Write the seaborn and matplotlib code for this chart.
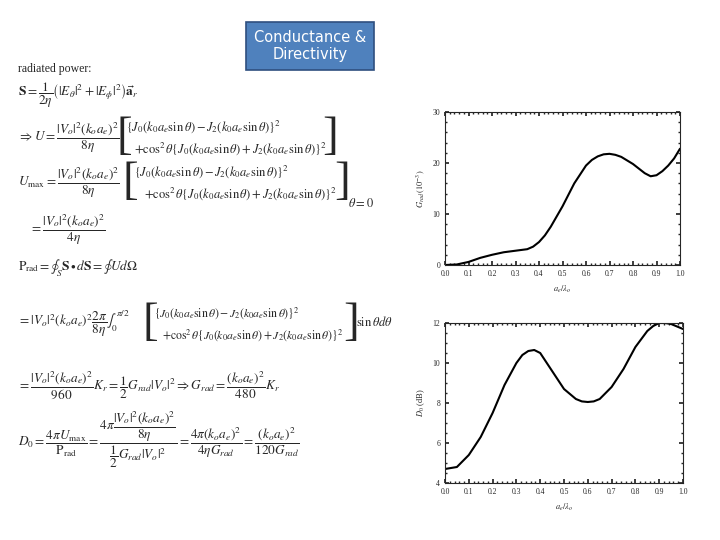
import matplotlib
matplotlib.use("Agg")
import matplotlib.pyplot as plt
import numpy as np
import pandas as pd
import seaborn as sns

# values
ratio = [0.0, 0.05, 0.1, 0.15, 0.2, 0.25, 0.3, 0.35, 0.375, 0.4, 0.425, 0.45, 0.5, 0.55,
         0.6, 0.625, 0.65, 0.675, 0.7, 0.725, 0.75, 0.8, 0.85, 0.875, 0.9, 0.925, 0.95, 0.975, 1.0]
g_rad = [0.0, 0.1, 0.6, 1.4, 2.0, 2.5, 2.8, 3.1, 3.6, 4.5, 5.8, 7.5, 11.5, 16.0,
         19.5, 20.6, 21.3, 21.7, 21.8, 21.6, 21.2, 19.8, 18.0, 17.4, 17.6, 18.4, 19.5, 20.9, 22.8]
ratio_d = [0.0, 0.05, 0.1, 0.15, 0.2, 0.25, 0.3, 0.325, 0.35, 0.375, 0.4, 0.45, 0.5,
           0.55, 0.575, 0.6, 0.625, 0.65, 0.7, 0.75, 0.8, 0.85, 0.875, 0.9, 0.925, 0.95, 1.0]
d0_db = [4.7, 4.8, 5.4, 6.3, 7.5, 8.9, 10.0, 10.4, 10.6, 10.65, 10.5, 9.6, 8.7,
         8.2, 8.08, 8.05, 8.08, 8.2, 8.8, 9.7, 10.8, 11.6, 11.85, 12.0, 12.0, 11.95, 11.7]

sns.set_theme(style="ticks")
plt.rcParams["mathtext.fontset"] = "stix"
plt.rcParams["font.family"] = ["Liberation Serif"]

fig = plt.figure(figsize=(7.2, 5.4), dpi=100)
W, H = 720, 540


def box(x0, y0, x1, y1):
    return [x0 / W, 1 - y1 / H, (x1 - x0) / W, (y1 - y0) / H]


def style(ax, xlab, ylab):
    ax.set_xlim(0, 1)
    ax.set_xticks(np.arange(0, 1.01, 0.1))
    ax.set_xticklabels([f"{v:.1f}" for v in np.arange(0, 1.01, 0.1)])
    ax.minorticks_on()
    ax.tick_params(which="both", direction="in", top=True, right=True, labelsize=5.5, length=3)
    ax.tick_params(which="minor", length=1.5)
    ax.set_xlabel(xlab, fontsize=6)
    ax.set_ylabel(ylab, fontsize=6)
    for s in ax.spines.values():
        s.set_linewidth(0.8)


ax1 = fig.add_axes(box(445, 112, 680, 265))
sns.lineplot(data=pd.DataFrame({"x": ratio, "y": g_rad}), x="x", y="y", ax=ax1,
             color="black", lw=1.5)
ax1.set_ylim(0, 30)
ax1.set_yticks([0, 10, 20, 30])
style(ax1, r"$a_e/\lambda_o$", r"$G_{rad}\,(10^{-3})$")

ax2 = fig.add_axes(box(445, 323, 683, 483))
sns.lineplot(data=pd.DataFrame({"x": ratio_d, "y": d0_db}), x="x", y="y", ax=ax2,
             color="black", lw=1.5)
ax2.set_ylim(4, 12)
ax2.set_yticks([4, 6, 8, 10, 12])
style(ax2, r"$a_e/\lambda_o$", r"$D_0$ (dB)")

# title box
fig.text(310 / W, 1 - 46 / H, "Conductance &\nDirectivity", ha="center", va="center",
         fontsize=10.5, color="white", family="DejaVu Sans",
         bbox=dict(boxstyle="square,pad=0.55", fc="#4f81bd", ec="#2f4f7f", lw=1.2))

J = r"\{J_0(k_0a_e\sin\theta)-J_2(k_0a_e\sin\theta)\}^2"
C = r"+\cos^2\theta\{J_0(k_0a_e\sin\theta)+J_2(k_0a_e\sin\theta)\}^2"
lines = [
    (18, 69, "radiated power:", 8.5),
    (18, 95, r"$\mathbf{S}=\dfrac{1}{2\eta}\left(|E_\theta|^2+|E_\phi|^2\right)\vec{\mathbf{a}}_r$", 9.5),
    (18, 138, r"$\Rightarrow U=\dfrac{|V_o|^2(k_oa_e)^2}{8\eta}$", 9.5),
    (126, 127, "$" + J + "$", 9),
    (134, 149, "$" + C + "$", 9),
    (18, 183, r"$U_{\max}=\dfrac{|V_o|^2(k_oa_e)^2}{8\eta}$", 9.5),
    (134, 172, "$" + J + "$", 9),
    (144, 194, "$" + C + "$", 9),
    (348, 203, r"$\theta=0$", 9),
    (30, 230, r"$=\dfrac{|V_o|^2(k_oa_e)^2}{4\eta}$", 9.5),
    (18, 268, r"$\mathrm{P_{rad}}=\oint_S \mathbf{S}\bullet d\mathbf{S}=\oint U d\Omega$", 9.5),
    (18, 324, r"$=|V_o|^2(k_oa_e)^2\dfrac{2\pi}{8\eta}\int_0^{\pi/2}$", 9.5),
    (154, 313, "$" + J + "$", 8.5),
    (162, 335, "$" + C + "$", 8.5),
    (356, 322, r"$\sin\theta d\theta$", 9),
    (18, 385, r"$=\dfrac{|V_o|^2(k_oa_e)^2}{960}K_r=\dfrac{1}{2}G_{rad}|V_o|^2\Rightarrow G_{rad}=\dfrac{(k_oa_e)^2}{480}K_r$", 9.5),
    (18, 440, r"$D_0=\dfrac{4\pi U_{\max}}{\mathrm{P_{rad}}}=\dfrac{4\pi\dfrac{|V_o|^2(k_oa_e)^2}{8\eta}}{\dfrac{1}{2}G_{rad}|V_o|^2}=\dfrac{4\pi(k_oa_e)^2}{4\eta G_{rad}}=\dfrac{(k_oa_e)^2}{120G_{rad}}$", 9.5),
]
for x, y, s, fs in lines:
    fig.text(x / W, 1 - y / H, s, ha="left", va="center", fontsize=fs)

# big brackets around the two-line expressions
for x, y in [(116, 138), (123, 183), (143, 324)]:
    fig.text(x / W, 1 - y / H, "[", ha="left", va="center", fontsize=34, fontweight="light")
for x, y in [(322, 138), (334, 183), (343, 324)]:
    fig.text(x / W, 1 - y / H, "]", ha="left", va="center", fontsize=34, fontweight="light")

fig.savefig("out.png", dpi=100)
